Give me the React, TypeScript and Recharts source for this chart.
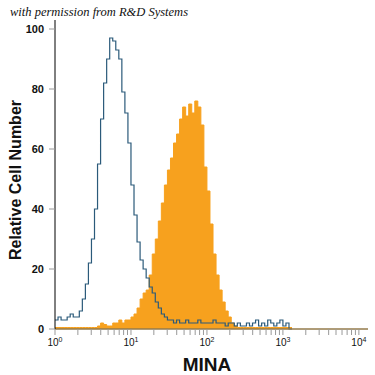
import React from 'react';
import { ComposedChart, Area, Line, XAxis, YAxis, ReferenceLine } from 'recharts';

// log10 of fluorescence intensity, one histogram bin every 0.04 decade
const bins = [
  0.0, 0.04, 0.08, 0.12, 0.16, 0.2, 0.24, 0.28, 0.32, 0.36,
  0.4, 0.44, 0.48, 0.52, 0.56, 0.6, 0.64, 0.68, 0.72, 0.76,
  0.8, 0.84, 0.88, 0.92, 0.96, 1.0, 1.04, 1.08, 1.12, 1.16,
  1.2, 1.24, 1.28, 1.32, 1.36, 1.4, 1.44, 1.48, 1.52, 1.56,
  1.6, 1.64, 1.68, 1.72, 1.76, 1.8, 1.84, 1.88, 1.92, 1.96,
  2.0, 2.04, 2.08, 2.12, 2.16, 2.2, 2.24, 2.28, 2.32, 2.36,
  2.4, 2.44, 2.48, 2.52, 2.56, 2.6, 2.64, 2.68, 2.72, 2.76,
  2.8, 2.84, 2.88, 2.92, 2.96, 3.0, 3.04, 3.08, 3.12,
];

// isotype control (open histogram)
const isotype = [
  3, 4, 3, 3, 4, 5, 4, 4, 6, 10,
  15, 22, 30, 40, 55, 70, 82, 90, 97, 96,
  93, 90, 79, 72, 62, 48, 38, 29, 23, 20,
  17, 14, 12, 9, 7, 5, 4, 3, 3, 2,
  3, 2, 2, 3, 2, 2, 2, 3, 2, 2,
  2, 2, 3, 2, 2, 2, 1, 2, 2, 1,
  2, 1, 1, 2, 1, 2, 3, 1, 2, 1,
  3, 2, 1, 2, 3, 1, 2, 0, 0,
];

// MINA antibody (filled histogram)
const mina = [
  0.5, 0.5, 0.5, 0.5, 0.5, 0.5, 0.5, 0.5, 0.5, 0.5,
  0.5, 0.5, 0.5, 0.5, 1, 2, 1.5, 1, 1, 2,
  2, 3, 2, 3, 3, 4, 5, 7, 10, 12,
  13, 18, 25, 30, 36, 42, 48, 53, 57, 62,
  65, 70, 74, 71, 75, 72, 76, 74, 68, 54,
  46, 35, 25, 18, 13, 9, 6, 4, 2, 1,
  0.5, 0.5, 0.5, 0.5, 0.5, 0.5, 0.5, 0.5, 0.5, 0.5,
  0.5, 0.5, 0.5, 0.5, 0.5, 0.5, 0.5, 0.5, 0.5,
];

const majorTicks = [0, 1, 2, 3, 4];
const yTicks = [0, 20, 40, 60, 80, 100];

const data = bins.map((b, i) => ({ b, isotype: isotype[i], mina: mina[i] }));

const xTicks: number[] = [];
majorTicks.forEach((d) => {
  xTicks.push(d);
  if (d < 4) for (let m = 2; m <= 9; m++) xTicks.push(d + Math.log10(m));
});

const XTick = (props: any) => {
  const { x, y, payload } = props;
  const v = payload.value;
  if (!majorTicks.includes(v)) return null;
  return (
    <text x={x} y={y + 9} textAnchor="middle" fontSize={10} fill="#111" fontFamily="Liberation Sans, Arial, sans-serif">
      10<tspan dy={-4} fontSize={7}>{v}</tspan>
    </text>
  );
};

export default function App() {
  return (
    <div style={{ position: 'absolute', left: 0, top: 0, width: 375, height: 375, background: '#fff' }}>
      <ComposedChart
        width={375}
        height={375}
        data={data}
        margin={{ top: 20, right: 7, bottom: 26, left: 0 }}
      >
        <XAxis
          dataKey="b"
          type="number"
          domain={[0, 4.12]}
          ticks={xTicks}
          interval={0}
          tick={<XTick />}
          tickSize={6}
          tickLine={{ stroke: '#999' }}
          axisLine={{ stroke: '#7a6a4a' }}
          height={20}
        />
        <YAxis
          type="number"
          domain={[0, 103]}
          ticks={yTicks}
          interval={0}
          width={55}
          tickSize={6}
          tickMargin={5}
          tickLine={{ stroke: '#999' }}
          axisLine={{ stroke: '#000' }}
          tick={{ fontSize: 11, fontWeight: 'bold', fill: '#111', fontFamily: 'Liberation Sans, Arial, sans-serif' }}
        />
        <Area
          type="stepAfter"
          dataKey="mina"
          fill="#f7a11e"
          fillOpacity={1}
          stroke="#f7a11e"
          strokeWidth={1}
          isAnimationActive={false}
        />
        <Line
          type="stepAfter"
          dataKey="isotype"
          stroke="#2b5a7a"
          strokeWidth={1.2}
          dot={false}
          isAnimationActive={false}
        />
        <ReferenceLine y={0} stroke="#c89a4a" strokeWidth={1} />
      </ComposedChart>
      <div
        style={{
          position: 'absolute', left: 10, top: 5, fontSize: 12.5, fontStyle: 'italic',
          fontFamily: 'Liberation Serif, serif', color: '#111', whiteSpace: 'nowrap',
        }}
      >
        with permission from R&amp;D Systems
      </div>
      <svg width={375} height={375} style={{ position: 'absolute', left: 0, top: 0, pointerEvents: 'none' }}>
        <text
          transform="translate(21,180) rotate(-90)"
          textAnchor="middle"
          fontSize={16}
          fontWeight="bold"
          fill="#111"
          fontFamily="Liberation Sans, Arial, sans-serif"
        >
          Relative Cell Number
        </text>
        <text x={207} y={371} textAnchor="middle" fontSize={19} fontWeight="bold" fill="#111" fontFamily="Liberation Sans, Arial, sans-serif">
          MINA
        </text>
      </svg>
    </div>
  );
}
